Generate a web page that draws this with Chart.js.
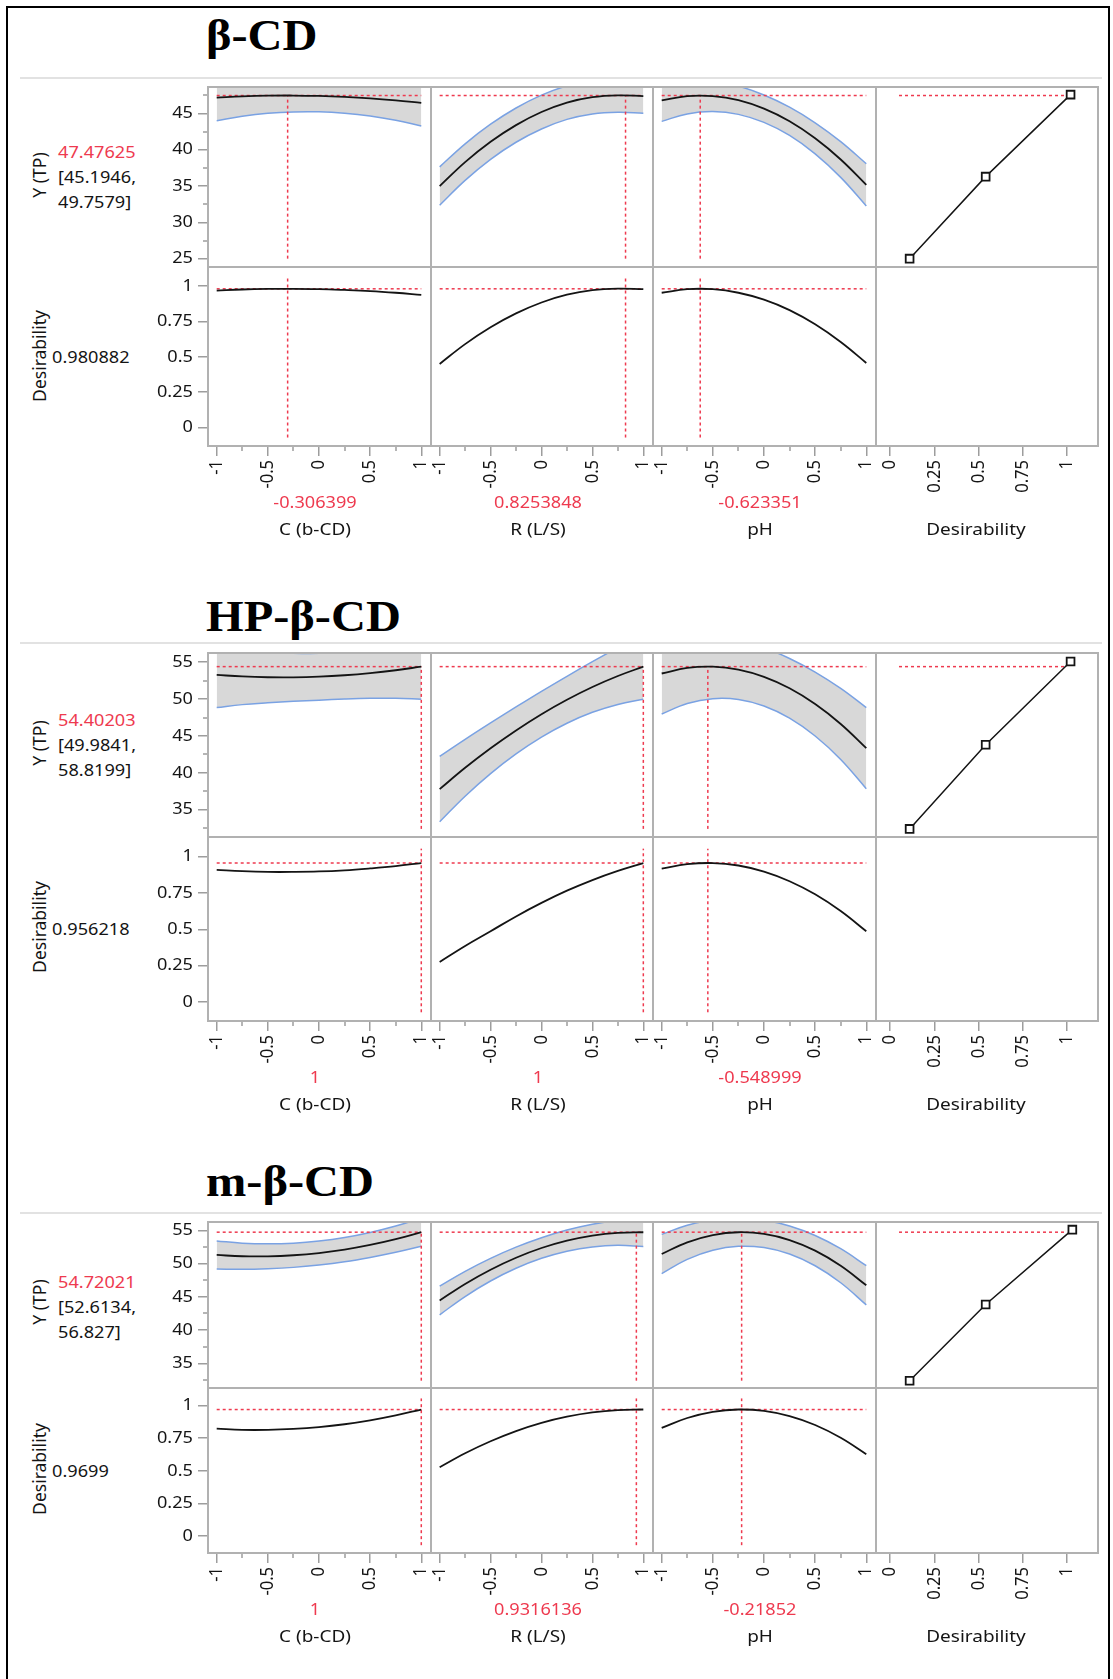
<!DOCTYPE html>
<html>
<head>
<meta charset="utf-8">
<title>Prediction profiler – Y (TP)</title>
<script src="https://cdn.jsdelivr.net/npm/chart.js@4.4.1/dist/chart.umd.min.js"></script>
<style>
  html, body { margin: 0; padding: 0; background: #fff; }
  #page { position: relative; width: 1113px; height: 1679px; overflow: hidden; background: #fff; }
  #frame { position: absolute; left: 6px; top: 6px; width: 1104px; height: 1700px; border: 2px solid #000; box-sizing: border-box; }
  .rule { position: absolute; left: 20px; width: 1082px; height: 2px; background: #e2e2e2; }
  .lbl { position: absolute; white-space: nowrap; font-family: "Noto Sans", "Open Sans", sans-serif; line-height: 1.2; color: #141414; }
  .ttl { position: absolute; white-space: nowrap; font-family: "Liberation Serif", "Times New Roman", serif; font-weight: bold; font-size: 44px; line-height: 44px; color: #000; transform-origin: 0 50%; transform: scaleX(1.1); }
  canvas { position: absolute; }
</style>
</head>
<body>
<div id="page"><div id="frame"></div></div>
<script>
// ---- axes and names -------------------------------------------------------
const levels = [-1, -0.75, -0.5, -0.25, 0, 0.25, 0.5, 0.75, 1];
const factorNames = ['C (b-CD)', 'R (L/S)', 'pH'];
const responseName = 'Y (TP)';
const desirName = 'Desirability';
const factorTicks = [-1, -0.5, 0, 0.5, 1];
const factorTickLabels = ['-1', '-0.5', '0', '0.5', '1'];
const factorMinor = [-0.75, -0.25, 0.25, 0.75];
const desirTicks = [0, 0.25, 0.5, 0.75, 1];
const desirTickLabels = ['0', '0.25', '0.5', '0.75', '1'];
const yTicksBeta = [25, 30, 35, 40, 45];
const yTickLabelsBeta = ['25', '30', '35', '40', '45'];
const yMinorBeta = [27.5, 32.5, 37.5, 42.5, 47.5];
const yTicksHi = [35, 40, 45, 50, 55];
const yTickLabelsHi = ['35', '40', '45', '50', '55'];
const yMinorHi = [32.5, 37.5, 42.5, 47.5, 52.5];

// ---- β-CD -------------------------------------------------------------------
const betaSettings = [-0.306399, 0.8253848, -0.623351];
const betaY = 47.47625;
const betaCI = [45.1946, 49.7579];
const betaD = 0.980882;
const betaC_pred  = [47.18, 47.35, 47.45, 47.475, 47.42, 47.29, 47.09, 46.81, 46.46];
const betaC_lower = [44.01, 44.61, 45.02, 45.22, 45.23, 45.04, 44.66, 44.07, 43.29];
const betaC_upper = [50.35, 50.09, 49.89, 49.73, 49.61, 49.54, 49.53, 49.55, 49.63];
const betaC_desir = [0.968, 0.976, 0.980, 0.981, 0.979, 0.973, 0.965, 0.953, 0.938];
const betaR_pred  = [35.0, 38.3, 41.1, 43.4, 45.2, 46.5, 47.25, 47.5, 47.4];
const betaR_lower = [32.36, 35.78, 38.68, 41.04, 42.87, 44.19, 44.94, 45.18, 45.05];
const betaR_upper = [37.64, 40.82, 43.52, 45.76, 47.53, 48.81, 49.56, 49.82, 49.75];
const betaR_desir = [0.450, 0.590, 0.709, 0.807, 0.884, 0.939, 0.971, 0.982, 0.978];
const betaP_pred  = [46.81, 47.40, 47.40, 46.83, 45.66, 43.92, 41.58, 38.66, 35.17];
const betaP_lower = [43.91, 44.94, 45.26, 44.88, 43.77, 41.97, 39.44, 36.20, 32.27];
const betaP_upper = [49.71, 49.86, 49.54, 48.78, 47.55, 45.87, 43.72, 41.12, 38.07];
const betaP_desir = [0.953, 0.978, 0.978, 0.953, 0.904, 0.830, 0.730, 0.605, 0.457];
const betaFnD = [0.11, 0.54, 1.02];
const betaFnY = [25, 36.3, 47.6];

// ---- HP-β-CD ----------------------------------------------------------------
const hpSettings = [1, 1, -0.548999];
const hpY = 54.40203;
const hpCI = [49.9841, 58.8199];
const hpD = 0.956218;
const hpC_pred  = [53.28, 53.07, 52.96, 52.95, 53.04, 53.23, 53.52, 53.91, 54.40];
const hpC_lower = [48.85, 49.25, 49.50, 49.70, 49.85, 50.00, 50.10, 50.12, 49.98];
const hpC_upper = [57.71, 56.89, 56.42, 56.20, 56.23, 56.46, 56.94, 57.70, 58.82];
const hpC_desir = [0.909, 0.900, 0.895, 0.895, 0.898, 0.906, 0.919, 0.935, 0.956];
const hpR_pred  = [37.79, 40.68, 43.33, 45.75, 47.95, 49.91, 51.64, 53.13, 54.40];
const hpR_lower = [33.36, 36.83, 39.90, 42.57, 44.85, 46.73, 48.21, 49.28, 49.98];
const hpR_upper = [42.22, 44.53, 46.76, 48.93, 51.05, 53.09, 55.07, 56.98, 58.82];
const hpR_desir = [0.276, 0.386, 0.487, 0.589, 0.682, 0.766, 0.839, 0.902, 0.956];
const hpP_pred  = [53.47, 54.22, 54.39, 53.99, 53.01, 51.46, 49.33, 46.63, 43.35];
const hpP_lower = [47.97, 49.40, 50.05, 49.94, 49.06, 47.41, 44.99, 41.81, 37.85];
const hpP_upper = [58.97, 59.04, 58.73, 58.04, 56.97, 55.51, 53.67, 51.45, 48.85];
const hpP_desir = [0.917, 0.948, 0.956, 0.939, 0.897, 0.831, 0.741, 0.626, 0.487];
const hpFnD = [0.11, 0.54, 1.02];
const hpFnY = [32.4, 43.8, 55.1];

// ---- m-β-CD -----------------------------------------------------------------
const mSettings = [1, 0.9316136, -0.21852];
const mY = 54.72021;
const mCI = [52.6134, 56.827];
const mD = 0.9699;
const mC_pred  = [51.30, 51.10, 51.09, 51.25, 51.585, 52.10, 52.80, 53.67, 54.72];
const mC_lower = [49.20, 49.13, 49.22, 49.43, 49.79, 50.28, 50.93, 51.70, 52.61];
const mC_upper = [53.40, 53.07, 52.97, 53.07, 53.39, 53.92, 54.68, 55.64, 56.82];
const mC_desir = [0.823, 0.814, 0.814, 0.821, 0.835, 0.857, 0.887, 0.925, 0.970];
const mR_pred  = [44.45, 46.94, 49.08, 50.88, 52.34, 53.45, 54.21, 54.63, 54.71];
const mR_lower = [42.30, 45.05, 47.38, 49.29, 50.79, 51.86, 52.51, 52.74, 52.56];
const mR_upper = [46.60, 48.83, 50.78, 52.47, 53.89, 55.04, 55.91, 56.52, 56.86];
const mR_desir = [0.528, 0.635, 0.727, 0.805, 0.868, 0.915, 0.948, 0.966, 0.970];
const mP_pred  = [51.44, 53.20, 54.29, 54.71, 54.46, 53.54, 51.95, 49.68, 46.74];
const mP_lower = [48.49, 50.64, 52.01, 52.60, 52.40, 51.43, 49.67, 47.12, 43.79];
const mP_upper = [54.39, 55.76, 56.57, 56.82, 56.52, 55.65, 54.23, 52.24, 49.69];
const mP_desir = [0.829, 0.905, 0.952, 0.970, 0.959, 0.919, 0.851, 0.753, 0.627];
const mFnD = [0.11, 0.54, 1.03];
const mFnY = [32.4, 43.85, 55.1];

// reference-line extents (data units)
const desirGuideSpan = [-0.07, 1.055];
const fnGuideSpan = [0.05, 1.0];

// ---- look -------------------------------------------------------------------
const RED = '#ee3a4f', BLUE = '#7aa2e3', BAND = '#d8d8d8', INK = '#141414';
const FRAME = '#b1b1b1', TICK = '#9d9d9d';
const FONT = '"Noto Sans", "Open Sans", sans-serif';
const SX = 1.1;                       // horizontal widening of profiler text
const colEdges = [208, 431, 653, 876, 1098];
const labelCenters = [315, 538, 760, 976];
const factorRange = [-1.085, 1.095];
const desirRange = [-0.08, 1.175];
const dRange = [-0.13, 1.135];

const panels = [
  { title: 'β-CD', titleBase: 51, sepY: 78, top: 87, mid: 267, bottom: 446,
    yRange: [23.85, 48.65], yTicks: yTicksBeta, yTickLabels: yTickLabelsBeta, yMinor: yMinorBeta,
    settings: betaSettings, y: betaY, ci: betaCI, d: betaD, fnD: betaFnD, fnY: betaFnY,
    traces: [[betaC_pred, betaC_lower, betaC_upper, betaC_desir],
             [betaR_pred, betaR_lower, betaR_upper, betaR_desir],
             [betaP_pred, betaP_lower, betaP_upper, betaP_desir]],
    yLab: 88, yVal: 65, dLab: 89, dVal: 90 },
  { title: 'HP-β-CD', titleBase: 632, sepY: 643, top: 653, mid: 837, bottom: 1021,
    yRange: [31.3, 56.25], yTicks: yTicksHi, yTickLabels: yTickLabelsHi, yMinor: yMinorHi,
    settings: hpSettings, y: hpY, ci: hpCI, d: hpD, fnD: hpFnD, fnY: hpFnY,
    traces: [[hpC_pred, hpC_lower, hpC_upper, hpC_desir],
             [hpR_pred, hpR_lower, hpR_upper, hpR_desir],
             [hpP_pred, hpP_lower, hpP_upper, hpP_desir]],
    yLab: 90, yVal: 67, dLab: 90, dVal: 92 },
  { title: 'm-β-CD', titleBase: 1197, sepY: 1213, top: 1222, mid: 1388, bottom: 1553,
    yRange: [31.3, 56.25], yTicks: yTicksHi, yTickLabels: yTickLabelsHi, yMinor: yMinorHi,
    settings: mSettings, y: mY, ci: mCI, d: mD, fnD: mFnD, fnY: mFnY,
    traces: [[mC_pred, mC_lower, mC_upper, mC_desir],
             [mR_pred, mR_lower, mR_upper, mR_desir],
             [mP_pred, mP_lower, mP_upper, mP_desir]],
    yLab: 80, yVal: 60, dLab: 81, dVal: 83 }
];

const page = document.getElementById('page');

// ---- plugins ----------------------------------------------------------------
// Draws canvas text slightly widened (across the glyphs for rotated tick labels).
const wideText = {
  id: 'wideText',
  beforeInit(chart) {
    const ctx = chart.ctx;
    const raw = ctx.fillText.bind(ctx);
    ctx.fillText = function (text, x, y) {
      const m = this.getTransform();
      this.save();
      this.translate(x, y);
      if (Math.abs(m.b) > 0.5) this.scale(1, SX); else this.scale(SX, 1);
      raw(text, 0, 0);
      this.restore();
    };
  }
};

// Short minor tick marks and the grey box around each profile cell.
const cellFrame = {
  id: 'cellFrame',
  afterDraw(chart, args, opts) {
    const { ctx, chartArea: a } = chart;
    const xs = chart.scales.x, ys = chart.scales.y;
    ctx.save();
    ctx.strokeStyle = TICK;
    ctx.lineWidth = 1.5;
    if (xs.options.display) {
      for (const v of opts.xMinor || []) {
        const p = Math.round(xs.getPixelForValue(v));
        ctx.beginPath(); ctx.moveTo(p, a.bottom); ctx.lineTo(p, a.bottom + 5); ctx.stroke();
      }
    }
    if (ys.options.display) {
      for (const v of opts.yMinor || []) {
        const p = Math.round(ys.getPixelForValue(v));
        ctx.beginPath(); ctx.moveTo(a.left - 5, p); ctx.lineTo(a.left, p); ctx.stroke();
      }
    }
    ctx.strokeStyle = FRAME;
    ctx.lineWidth = 2;
    ctx.strokeRect(a.left, a.top, a.right - a.left, a.bottom - a.top);
    ctx.restore();
  }
};

// ---- helpers ----------------------------------------------------------------
function pairs(xv, yv) { return xv.map((x, i) => ({ x, y: yv[i] })); }

function line(points, color, width, extra) {
  return Object.assign({ data: points, borderColor: color, borderWidth: width,
    pointRadius: 0, fill: false, tension: 0 }, extra || {});
}

function axis(dir, range, ticks, labels, shown, size) {
  const tickOpts = { autoSkip: false, padding: dir === 'x' ? 4 : 5, color: INK,
    font: { family: FONT, size: 16.5 }, callback: (v, i) => labels[i] };
  if (dir === 'x') { tickOpts.minRotation = 90; tickOpts.maxRotation = 90; }
  return {
    type: 'linear', min: range[0], max: range[1], display: shown,
    afterBuildTicks: s => { s.ticks = ticks.map(v => ({ value: v })); },
    afterFit: s => {
      if (!shown) return;
      if (dir === 'x') s.height = size; else s.width = size;
      s.paddingLeft = 0; s.paddingRight = 0; s.paddingTop = 0; s.paddingBottom = 0;
    },
    ticks: tickOpts,
    grid: { drawOnChartArea: false, drawTicks: true, tickLength: 10, color: TICK, lineWidth: 1.5 },
    border: { display: false }
  };
}

function put(text, x, y, o) {
  o = o || {};
  const d = document.createElement('div');
  d.className = 'lbl';
  d.textContent = text;
  d.style.left = x + 'px';
  d.style.top = y + 'px';
  d.style.fontSize = (o.size || 16.5) + 'px';
  if (o.color) d.style.color = o.color;
  const sx = o.sx || SX;
  if (o.rotate) {
    d.style.transformOrigin = '50% 50%';
    d.style.transform = 'translate(-50%,-50%) rotate(-90deg)';
  } else if (o.align === 'center') {
    d.style.transformOrigin = '50% 50%';
    d.style.transform = 'translate(-50%,-50%) scaleX(' + sx + ')';
  } else {
    d.style.transformOrigin = '0 50%';
    d.style.transform = 'translate(0,-50%) scaleX(' + sx + ')';
  }
  page.appendChild(d);
}

const dash = { borderDash: [3, 3], order: 1 };

function addCell(P, col, row) {
  const left = col === 0, bottomRow = row === 1, fnCol = col === 3;
  const L = colEdges[col], R = colEdges[col + 1];
  const T = row === 0 ? P.top : P.mid, B = row === 0 ? P.mid : P.bottom;
  const yW = left ? 60 : 0, xH = bottomRow ? 52 : 0;
  const pad = { left: left ? 0 : 1, right: 1, top: 1, bottom: bottomRow ? 0 : 1 };
  const w = R - L + yW + pad.left + pad.right;
  const h = B - T + xH + pad.top + pad.bottom;
  const cv = document.createElement('canvas');
  cv.width = w; cv.height = h;
  cv.style.left = (L - yW - pad.left) + 'px';
  cv.style.top = (T - pad.top) + 'px';
  cv.style.width = w + 'px'; cv.style.height = h + 'px';
  page.appendChild(cv);

  const ds = [];
  if (!fnCol) {
    const [pred, lo, hi, des] = P.traces[col];
    const s = P.settings[col];
    const x0 = factorTicks[0], x1 = factorTicks[factorTicks.length - 1];
    if (row === 0) {
      ds.push(line(pairs(levels, lo), BLUE, 1.5, { tension: 0.4, order: 2 }));
      ds.push(line(pairs(levels, hi), BLUE, 1.5, { tension: 0.4, fill: '-1', backgroundColor: BAND, order: 3 }));
      ds.push(line([{ x: x0, y: P.y }, { x: x1, y: P.y }], RED, 1.5, dash));
      ds.push(line([{ x: s, y: P.fnY[0] }, { x: s, y: P.y }], RED, 1.5, dash));
      ds.push(line(pairs(levels, pred), INK, 1.8, { tension: 0.4, order: 0 }));
    } else {
      ds.push(line([{ x: x0, y: P.d }, { x: x1, y: P.d }], RED, 1.5, dash));
      ds.push(line([{ x: s, y: desirGuideSpan[0] }, { x: s, y: desirGuideSpan[1] }], RED, 1.5, dash));
      ds.push(line(pairs(levels, des), INK, 1.8, { tension: 0.4, order: 0 }));
    }
  } else if (row === 0) {
    ds.push(line([{ x: fnGuideSpan[0], y: P.y }, { x: fnGuideSpan[1], y: P.y }], RED, 1.5, dash));
    ds.push(line(pairs(P.fnD, P.fnY), INK, 1.5, { pointRadius: 5.5, pointStyle: 'rect',
      pointBorderColor: INK, pointBackgroundColor: '#ffffff', pointBorderWidth: 1.8, order: 0 }));
  }

  const xr = fnCol ? desirRange : factorRange;
  const xT = fnCol ? desirTicks : factorTicks;
  const xL = fnCol ? desirTickLabels : factorTickLabels;
  const yr = row === 0 ? P.yRange : dRange;
  const yT = row === 0 ? P.yTicks : desirTicks;
  const yL = row === 0 ? P.yTickLabels : desirTickLabels;

  new Chart(cv, {
    type: 'line',
    data: { datasets: ds },
    options: {
      responsive: false, animation: false, devicePixelRatio: 1, events: [],
      layout: { padding: pad, autoPadding: false },
      plugins: {
        legend: { display: false }, tooltip: { enabled: false },
        cellFrame: { xMinor: fnCol ? [] : factorMinor, yMinor: row === 0 ? P.yMinor : [] }
      },
      scales: {
        x: axis('x', xr, xT, xL, bottomRow, xH),
        y: axis('y', yr, yT, yL, left, yW)
      }
    },
    plugins: [wideText, cellFrame]
  });
}

// ---- build the three profilers ---------------------------------------------
panels.forEach(P => {
  const t = document.createElement('div');
  t.className = 'ttl';
  t.textContent = P.title;
  t.style.left = '206px';
  t.style.top = (P.titleBase - 37) + 'px';
  page.appendChild(t);

  const r = document.createElement('div');
  r.className = 'rule';
  r.style.top = (P.sepY - 1) + 'px';
  page.appendChild(r);

  for (let row = 0; row < 2; row++)
    for (let col = 0; col < 4; col++) addCell(P, col, row);

  put(responseName, 39, P.top + P.yLab, { rotate: true, size: 17.5 });
  put(String(P.y), 58, P.top + P.yVal, { color: RED });
  put('[' + P.ci[0] + ',', 58, P.top + P.yVal + 25);
  put(P.ci[1] + ']', 58, P.top + P.yVal + 50);
  put(desirName, 39, P.mid + P.dLab, { rotate: true, size: 17.5 });
  put(String(P.d), 52, P.mid + P.dVal);

  for (let c = 0; c < 3; c++) {
    put(String(P.settings[c]), labelCenters[c], P.bottom + 56, { align: 'center', color: RED });
    put(factorNames[c], labelCenters[c], P.bottom + 83, { align: 'center', sx: 1.15 });
  }
  put(desirName, labelCenters[3], P.bottom + 83, { align: 'center', sx: 1.15 });
});
</script>
</body>
</html>
